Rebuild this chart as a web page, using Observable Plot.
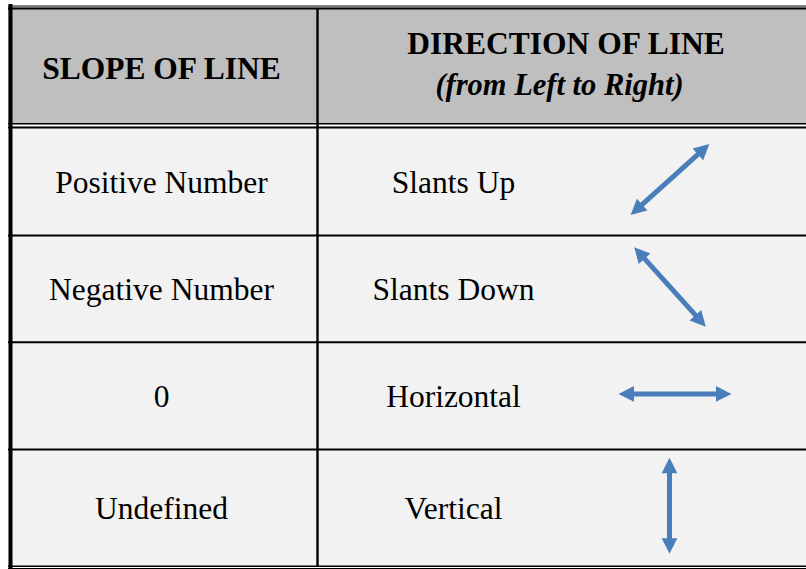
<!DOCTYPE html>
<html><head><meta charset="utf-8">
<script src="https://cdn.jsdelivr.net/npm/d3@7"></script>
<script src="https://cdn.jsdelivr.net/npm/@observablehq/plot@0.6"></script>
<style>html,body{margin:0;padding:0;background:#fff;}#chart svg{display:block;}</style>
</head><body><div id="chart"></div>
<script>
// ---- data ----
const headerCol1 = "SLOPE OF LINE";
const headerCol2 = "DIRECTION OF LINE";
const headerCol2Sub = "(from Left to Right)";
const slopes = ["Positive Number", "Negative Number", "0", "Undefined"];
const directions = ["Slants Up", "Slants Down", "Horizontal", "Vertical"];
const arrowAngles = [42, -48, 0, 90]; // direction of each line, degrees (counter-clockwise)

// ---- layout ----
const W = 806, H = 569;
const LAYOUT = {
  left: 8, right: W,
  rowEdges: [127, 235, 341.8, 449, 565.7],
  colDivider: 317,
  col1X: 161, col2X: 453,
  arrowX: [669.5, 669.5, 674.5, 669],
  arrowLen: [106, 107, 113, 96],
  arrowDy: -2,
  baselineOffset: 11,
  headW: 15.7, headH: 15.5
};
const FONT = "Liberation Serif, Times New Roman, serif";
const BLUE = "#4a7ebb";

const rows = slopes.map((s, i) => {
  const y0 = LAYOUT.rowEdges[i], y1 = LAYOUT.rowEdges[i + 1];
  const cy = (y0 + y1) / 2;
  return {slope: s, dir: directions[i], angle: arrowAngles[i], cy, base: cy + LAYOUT.baselineOffset,
          ax: LAYOUT.arrowX[i], ay: cy + LAYOUT.arrowDy, len: LAYOUT.arrowLen[i]};
});

// arrows
const shafts = [], heads = [];
rows.forEach(r => {
  const a = r.angle * Math.PI / 180;
  const ux = Math.cos(a), uy = -Math.sin(a);
  const h = r.len / 2;
  const tA = {x: r.ax + ux * h, y: r.ay + uy * h};
  const tB = {x: r.ax - ux * h, y: r.ay - uy * h};
  const trim = LAYOUT.headH * 0.8;
  shafts.push({x1: tA.x - ux * trim, y1: tA.y - uy * trim, x2: tB.x + ux * trim, y2: tB.y + uy * trim});
  heads.push({x: tA.x, y: tA.y, rot: 90 - r.angle});
  heads.push({x: tB.x, y: tB.y, rot: -90 - r.angle});
});

const headSymbol = {
  draw(ctx) {
    const w = LAYOUT.headW, hh = LAYOUT.headH;
    ctx.moveTo(0, 0);
    ctx.lineTo(w / 2, hh);
    ctx.lineTo(-w / 2, hh);
    ctx.closePath();
  }
};

const hLines = [
  {y: 5.5, w: 1}, {y: 8, w: 2},
  {y: 123.2, w: 1.6}, {y: 127, w: 2},
  {y: 235, w: 2}, {y: 341.8, w: 2}, {y: 449, w: 2},
  {y: 565.7, w: 1.5}, {y: 568.2, w: 1.5}
];
const vLines = [
  {x: 10, y1: 4, y2: 569, w: 4},
  {x: LAYOUT.colDivider, y1: 8, y2: 566, w: 2.4}
];

const chart = Plot.plot({
  width: W, height: H,
  margin: 0,
  x: {domain: [0, W], range: [0, W], axis: null},
  y: {domain: [0, H], range: [0, H], axis: null},
  style: {background: "#fff"},
  marks: [
    Plot.rect([{}], {x1: LAYOUT.left, x2: W, y1: 7, y2: 124, fill: "#bfbfbf"}),
    Plot.rect([{}], {x1: LAYOUT.left, x2: W, y1: 126, y2: 566, fill: "#f2f2f2"}),
    Plot.ruleY(hLines, {y: "y", x1: LAYOUT.left, x2: W, stroke: "#000", strokeWidth: d => d.w}),
    Plot.ruleX(vLines, {x: "x", y1: "y1", y2: "y2", stroke: "#000", strokeWidth: d => d.w}),
    // header
    Plot.text([headerCol1], {x: LAYOUT.col1X, y: 78, text: d => d, fontFamily: FONT, fontSize: 31.5, fontWeight: "bold", fill: "#000", lineAnchor: "bottom"}),
    Plot.text([headerCol2], {x: 565.5, y: 53, text: d => d, fontFamily: FONT, fontSize: 31.5, fontWeight: "bold", fill: "#000", lineAnchor: "bottom"}),
    Plot.text([headerCol2Sub], {x: 559, y: 94, text: d => d, fontFamily: FONT, fontSize: 30.5, fontWeight: "bold", fontStyle: "italic", fill: "#000", lineAnchor: "bottom"}),
    // body
    Plot.text(rows, {x: LAYOUT.col1X, y: "base", text: "slope", fontFamily: FONT, fontSize: 31.5, fill: "#000", lineAnchor: "bottom"}),
    Plot.text(rows, {x: LAYOUT.col2X, y: "base", text: "dir", fontFamily: FONT, fontSize: 31.5, fill: "#000", lineAnchor: "bottom"}),
    // arrows
    Plot.link(shafts, {x1: "x1", y1: "y1", x2: "x2", y2: "y2", stroke: BLUE, strokeWidth: 5, strokeLinecap: "butt"}),
    Plot.dot(heads, {x: "x", y: "y", rotate: "rot", symbol: headSymbol, fill: BLUE, stroke: "none", r: 8})
  ]
});
document.getElementById("chart").appendChild(chart);
</script>
</body></html>
